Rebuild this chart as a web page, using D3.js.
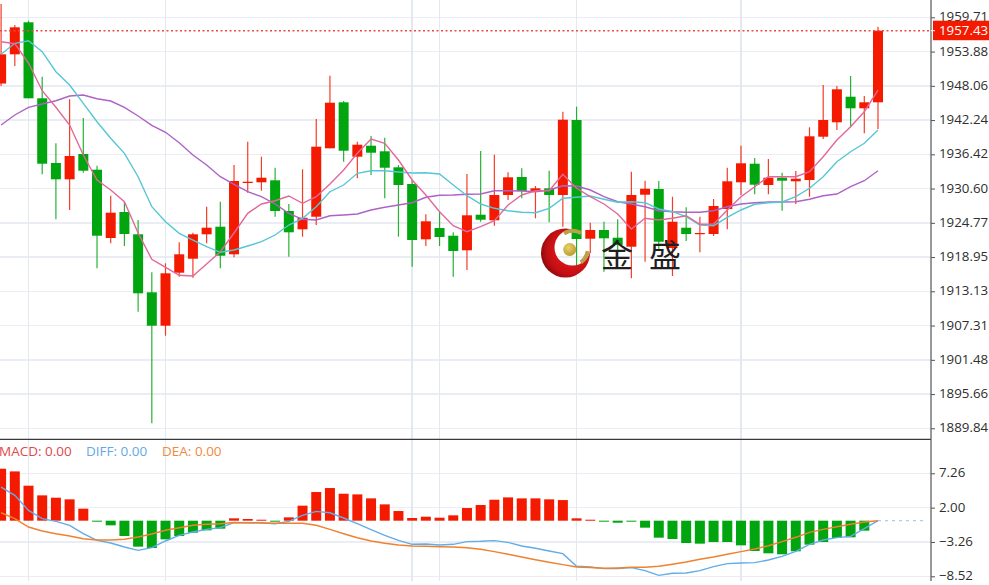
<!DOCTYPE html>
<html>
<head>
<meta charset="utf-8">
<script src="https://cdn.jsdelivr.net/npm/d3@7/dist/d3.min.js"></script>
<style>
html,body{margin:0;padding:0;background:#fff;overflow:hidden}
svg{display:block}
</style>
</head>
<body>
<svg id="chart" width="989" height="585"></svg>
<script>
const opens=[1948.45,1953.42,1958.86,1945.94,1934.94,1932.17,1936.47,1933.80,1922.19,1926.61,1922.82,1912.96,1907.28,1916.29,1918.67,1922.82,1924.11,1919.42,1931.54,1931.66,1932.00,1926.78,1923.67,1925.81,1937.44,1945.26,1936.01,1937.88,1936.93,1934.21,1931.37,1921.97,1923.89,1922.58,1920.10,1926.15,1925.20,1929.50,1932.56,1930.06,1930.64,1929.50,1942.25,1922.07,1923.55,1922.24,1920.71,1929.55,1930.52,1920.49,1923.94,1922.87,1922.87,1927.12,1931.66,1934.82,1931.20,1932.44,1931.83,1932.05,1939.41,1941.86,1946.21,1944.24,1945.26];
const closes=[1953.42,1958.01,1945.94,1934.82,1932.17,1936.13,1933.63,1922.58,1926.49,1922.87,1912.79,1907.28,1916.19,1919.42,1922.82,1923.94,1919.18,1931.88,1931.76,1932.44,1926.78,1923.16,1925.64,1937.71,1945.19,1937.03,1938.05,1936.69,1934.14,1931.20,1921.85,1925.03,1922.36,1919.98,1926.05,1925.30,1929.50,1932.51,1930.18,1930.64,1929.50,1942.30,1922.02,1923.55,1922.14,1921.00,1929.50,1930.57,1921.56,1924.96,1922.87,1923.04,1927.63,1931.83,1934.89,1931.25,1932.44,1931.93,1932.27,1939.48,1942.25,1947.47,1944.24,1945.26,1957.43];
const highs=[1961.97,1958.40,1959.13,1949.61,1938.29,1945.77,1942.59,1934.48,1929.38,1928.31,1925.25,1916.36,1917.89,1921.46,1923.09,1927.51,1928.36,1934.60,1938.56,1936.01,1934.14,1927.97,1933.87,1942.42,1949.78,1945.48,1938.56,1939.53,1939.24,1934.60,1932.05,1926.22,1926.66,1923.16,1933.07,1936.98,1936.35,1933.36,1934.04,1931.03,1933.63,1943.66,1944.51,1924.79,1924.96,1925.37,1933.46,1931.93,1931.88,1929.21,1927.41,1925.81,1928.82,1934.14,1937.88,1935.79,1935.62,1933.29,1933.58,1941.01,1948.20,1948.03,1949.73,1946.33,1958.11];
const lows=[1948.03,1951.43,1945.94,1933.02,1925.37,1926.95,1933.29,1917.04,1921.29,1920.83,1909.66,1890.69,1905.58,1915.61,1915.44,1921.29,1917.04,1918.91,1929.89,1930.23,1925.81,1919.01,1922.41,1924.40,1937.44,1935.16,1932.34,1932.90,1928.94,1922.41,1917.31,1920.83,1920.83,1915.61,1916.75,1924.96,1924.28,1928.65,1928.94,1925.54,1924.86,1924.11,1917.31,1919.59,1916.46,1920.15,1915.34,1918.16,1920.32,1915.73,1921.68,1919.76,1922.53,1923.67,1929.50,1929.62,1929.62,1926.83,1927.97,1929.21,1939.02,1940.55,1941.01,1939.99,1940.72];
const maPink=[1955.56,1955.22,1951.94,1947.23,1944.41,1941.40,1936.30,1932.05,1930.35,1928.36,1923.04,1918.57,1917.21,1915.85,1915.73,1917.77,1919.86,1923.04,1926.39,1927.97,1928.53,1929.33,1928.09,1929.21,1931.37,1933.75,1936.59,1939.02,1938.29,1935.45,1932.05,1929.50,1926.66,1924.28,1923.26,1924.11,1925.13,1927.80,1929.50,1930.23,1930.23,1933.02,1930.64,1929.21,1927.97,1926.27,1923.72,1925.54,1925.25,1925.54,1925.98,1924.52,1924.57,1926.95,1929.21,1930.91,1932.61,1932.61,1932.61,1933.46,1936.01,1938.85,1941.11,1943.66,1947.35];
const maCyan=[1953.42,1955.29,1955.73,1953.86,1950.46,1948.20,1945.09,1941.96,1939.14,1936.59,1932.61,1927.51,1924.96,1922.99,1921.85,1920.71,1919.76,1920.15,1920.83,1921.56,1922.70,1924.40,1925.54,1927.51,1930.06,1931.20,1933.19,1933.63,1933.63,1933.41,1933.24,1933.29,1933.07,1931.20,1929.38,1927.97,1927.24,1926.83,1926.56,1926.49,1927.24,1928.94,1929.11,1929.33,1928.77,1928.26,1928.36,1928.19,1927.12,1926.66,1925.81,1924.40,1924.28,1925.71,1926.95,1927.92,1928.19,1928.31,1929.21,1930.64,1932.61,1935.16,1936.86,1938.29,1940.55];
const maPurple=[1941.40,1943.10,1944.41,1944.97,1945.53,1946.33,1946.50,1945.87,1945.48,1944.41,1942.93,1941.35,1940.16,1938.39,1936.30,1934.60,1932.61,1931.32,1930.06,1929.21,1927.97,1926.39,1925.37,1925.25,1925.98,1926.10,1926.27,1926.95,1927.41,1927.80,1928.19,1929.11,1929.45,1929.50,1929.62,1929.67,1930.23,1930.23,1930.18,1930.06,1930.35,1931.08,1931.03,1930.35,1929.21,1928.36,1927.97,1927.51,1926.83,1926.66,1926.56,1926.56,1926.83,1927.51,1927.97,1928.19,1928.31,1928.31,1928.36,1928.77,1929.38,1929.67,1930.91,1931.93,1933.63];
const macdBars=[7.96,7.55,5.36,3.88,3.52,3.27,1.84,-0.10,-0.71,-2.35,-3.98,-4.18,-2.86,-2.35,-1.84,-1.48,-1.22,0.36,0.26,0.15,-0.10,0.51,2.30,4.39,5.00,4.13,4.03,3.42,2.50,1.48,0.41,0.61,0.46,0.82,1.94,2.40,3.21,3.57,3.42,3.42,3.27,3.16,0.36,0.15,-0.15,-0.31,-0.05,-1.07,-2.60,-2.81,-3.42,-3.52,-3.27,-3.27,-3.78,-4.64,-5.00,-5.15,-4.69,-3.67,-3.27,-2.65,-2.55,-1.53,0];
const diffLine=[5.15,3.88,1.58,0.31,-0.10,-0.71,-1.99,-3.01,-3.42,-4.03,-4.54,-4.13,-3.11,-2.24,-1.73,-1.33,-1.07,-0.31,-0.31,-0.31,-0.46,-0.10,0.82,1.43,1.22,0.41,-0.46,-1.38,-2.24,-3.01,-3.62,-3.57,-3.72,-3.62,-3.21,-3.16,-3.06,-3.32,-3.88,-4.23,-4.64,-5.05,-6.99,-7.09,-7.35,-7.35,-7.19,-7.65,-8.37,-8.06,-8.01,-7.65,-7.04,-6.58,-6.48,-6.43,-6.02,-5.46,-4.69,-3.62,-2.96,-2.60,-2.40,-1.22,0];
const deaLine=[1.22,0.31,-0.97,-1.58,-1.99,-2.35,-2.76,-2.96,-2.96,-2.86,-2.50,-2.04,-1.48,-1.07,-0.71,-0.56,-0.46,-0.26,-0.31,-0.36,-0.41,-0.41,-0.41,-0.71,-1.33,-1.99,-2.60,-3.11,-3.47,-3.72,-3.88,-3.93,-3.98,-4.03,-4.13,-4.39,-4.74,-5.15,-5.56,-5.97,-6.38,-6.73,-7.09,-7.19,-7.30,-7.24,-7.14,-7.14,-6.99,-6.68,-6.33,-5.92,-5.56,-5.15,-4.74,-4.34,-3.83,-3.21,-2.55,-1.79,-1.33,-0.92,-0.56,-0.20,0];
const priceTicks=[1959.71,1953.88,1948.06,1942.24,1936.42,1930.60,1924.77,1918.95,1913.13,1907.31,1901.48,1895.66,1889.84];
const macdTicks=[7.26,2.00,-3.26,-8.52];
const gridIndexes=[2,12,30,32,42,54];
const lastPrice=1957.43;
const macdLegend=[["MACD: 0.00","#e0474c"],["DIFF: 0.00","#64a8e6"],["DEA: 0.00","#f08a3c"]];
const logoName=["金","盛"];

const W=989,H=585,axisX=931,red="#f41a00",green="#00a50f";
const FONT="'Open Sans',sans-serif";
const svg=d3.select("#chart");
const x=d3.scaleLinear().domain([0,64]).range([1.1,878]);
const yP=d3.scaleLinear().domain([1889.84,1959.71]).range([428.3,17.3]);
const yM=d3.scaleLinear().domain([-8.52,7.26]).range([576.3,473.3]);

const defs=svg.append("defs");
defs.append("clipPath").attr("id","plot").append("rect").attr("width",axisX).attr("height",H);
const grad=defs.append("radialGradient").attr("id","crescent").attr("cx","0.62").attr("cy","0.45").attr("r","0.65");
grad.append("stop").attr("offset","0.35").attr("stop-color","#e0171a");
grad.append("stop").attr("offset","0.75").attr("stop-color","#c30f14");
grad.append("stop").attr("offset","1").attr("stop-color","#86080d");
const ballGrad=defs.append("radialGradient").attr("id","ball").attr("cx","0.4").attr("cy","0.35").attr("r","0.7");
ballGrad.append("stop").attr("offset","0").attr("stop-color","#e8d56a");
ballGrad.append("stop").attr("offset","1").attr("stop-color","#b8962a");
const mask=defs.append("mask").attr("id","cres").attr("maskUnits","userSpaceOnUse").attr("x",530).attr("y",220).attr("width",80).attr("height",70);
mask.append("rect").attr("x",530).attr("y",220).attr("width",80).attr("height",70).attr("fill","#fff");
mask.append("circle").attr("cx",572.5).attr("cy",247.5).attr("r",18).attr("fill","#000");

const grid=svg.append("g").attr("shape-rendering","crispEdges");
grid.selectAll(".hp").data(priceTicks).join("line").attr("x1",0).attr("x2",axisX)
  .attr("y1",d=>yP(d)).attr("y2",d=>yP(d)).attr("stroke","#eaeef4").attr("stroke-width",1.4);
grid.selectAll(".hm").data(macdTicks,d=>d).join("line").attr("x1",0).attr("x2",axisX)
  .attr("y1",d=>yM(d)).attr("y2",d=>yM(d)).attr("stroke","#eaeef4").attr("stroke-width",1.4);
grid.selectAll(".v").data(gridIndexes,d=>"v"+d).join("line").attr("x1",d=>x(d)).attr("x2",d=>x(d))
  .attr("y1",0).attr("y2",581).attr("stroke","#e4e9f1").attr("stroke-width",1.4);

const plot=svg.append("g").attr("clip-path","url(#plot)");
const idx=d3.range(opens.length);
const col=i=>closes[i]>=opens[i]?red:green;
plot.selectAll(".wick").data(idx).join("line").attr("class","wick")
  .attr("x1",x).attr("x2",x).attr("y1",i=>yP(highs[i])).attr("y2",i=>yP(lows[i]))
  .attr("stroke",col).attr("stroke-width",1.2).attr("stroke-opacity",0.85);
plot.selectAll(".body").data(idx).join("rect").attr("class","body")
  .attr("x",i=>x(i)-5).attr("width",10)
  .attr("y",i=>Math.min(yP(opens[i]),yP(closes[i])))
  .attr("height",i=>Math.max(1.2,Math.abs(yP(opens[i])-yP(closes[i]))))
  .attr("fill",col);

const lineP=d3.line().x((d,i)=>x(i)).y(d=>yP(d));
[[maPurple,"#ad63c4"],[maCyan,"#56c6d6"],[maPink,"#e2689b"]].forEach(([a,c])=>{
  plot.append("path").attr("d",lineP(a)).attr("fill","none").attr("stroke",c).attr("stroke-width",1.4);
});

plot.selectAll(".mb").data(idx.filter(i=>macdBars[i]!==0)).join("rect").attr("class","mb")
  .attr("x",i=>x(i)-5).attr("width",10)
  .attr("y",i=>Math.min(yM(0),yM(macdBars[i])))
  .attr("height",i=>Math.max(1,Math.abs(yM(macdBars[i])-yM(0))))
  .attr("fill",i=>macdBars[i]>=0?red:green);
const lineM=d3.line().x((d,i)=>x(i)).y(d=>yM(d));
plot.append("path").attr("d",lineM(diffLine)).attr("fill","none").attr("stroke","#62ace8").attr("stroke-width",1.4);
plot.append("path").attr("d",lineM(deaLine)).attr("fill","none").attr("stroke","#f0812f").attr("stroke-width",1.5);
plot.append("line").attr("x1",x(64)).attr("x2",axisX-4).attr("y1",yM(0)).attr("y2",yM(0))
  .attr("stroke","#a9d0ea").attr("stroke-width",1.2).attr("stroke-dasharray","3 4");

plot.append("line").attr("x1",0).attr("x2",axisX).attr("y1",yP(lastPrice)).attr("y2",yP(lastPrice))
  .attr("stroke","#ee4a44").attr("stroke-width",1.4).attr("stroke-dasharray","2 2.5");

// logo
const lg=svg.append("g");
lg.append("circle").attr("cx",565.5).attr("cy",253).attr("r",24.5).attr("fill","url(#crescent)").attr("mask","url(#cres)");
lg.append("path").attr("d",d3.arc()({innerRadius:15,outerRadius:19,startAngle:-0.55,endAngle:0.5})).attr("transform","translate(573,248)").attr("fill","#b9a24a");
lg.append("path").attr("d",d3.arc()({innerRadius:16,outerRadius:20,startAngle:1.75,endAngle:2.5})).attr("transform","translate(570,248)").attr("fill","#b9a24a");
lg.append("circle").attr("cx",569.7).attr("cy",249.5).attr("r",6.5).attr("fill","url(#ball)");
lg.selectAll("text").data(logoName).join("text")
  .attr("x",(d,i)=>i?665:617).attr("y",267).attr("text-anchor","middle")
  .attr("font-family","'Noto Sans CJK SC'").attr("font-size",32).attr("fill","#1f1f1f").text(d=>d);

// frame
svg.append("line").attr("x1",0).attr("x2",axisX).attr("y1",439.4).attr("y2",439.4).attr("stroke","#3a3a3a").attr("stroke-width",1.2);
svg.append("line").attr("x1",axisX).attr("x2",axisX).attr("y1",0).attr("y2",581).attr("stroke","#555").attr("stroke-width",1.2);

function styleAxis(g){
  g.select(".domain").remove();
  g.selectAll(".tick line").attr("stroke","#555");
  g.selectAll(".tick text").attr("font-family",FONT).attr("font-size",13.3).attr("fill","#2e2e2e").attr("dy","0.27em");
}
svg.append("g").attr("transform",`translate(${axisX},0)`)
  .call(d3.axisRight(yP).tickValues(priceTicks).tickFormat(d3.format(".2f")).tickSize(4).tickPadding(4)).call(styleAxis);
svg.append("g").attr("transform",`translate(${axisX},0)`)
  .call(d3.axisRight(yM).tickValues(macdTicks).tickFormat(d3.format(".2f")).tickSize(4).tickPadding(4)).call(styleAxis);

// last price tag
svg.append("rect").attr("x",933).attr("y",yP(lastPrice)-10).attr("width",56).attr("height",19.5).attr("fill",red);
svg.append("line").attr("x1",axisX).attr("x2",axisX+4).attr("y1",yP(lastPrice)).attr("y2",yP(lastPrice)).attr("stroke","#fff");
svg.append("text").attr("x",939).attr("y",yP(lastPrice)).attr("dy","0.3em").attr("font-family",FONT).attr("font-size",13.3).attr("fill","#fff").text(d3.format(".2f")(lastPrice));

// legend
svg.selectAll(".lg").data(macdLegend).join("text").attr("class","lg")
  .attr("x",(d,i)=>[-1,86,162][i]).attr("y",456).attr("font-family",FONT).attr("font-size",13.5)
  .attr("fill",d=>d[1]).text(d=>d[0]);
</script>
</body>
</html>
